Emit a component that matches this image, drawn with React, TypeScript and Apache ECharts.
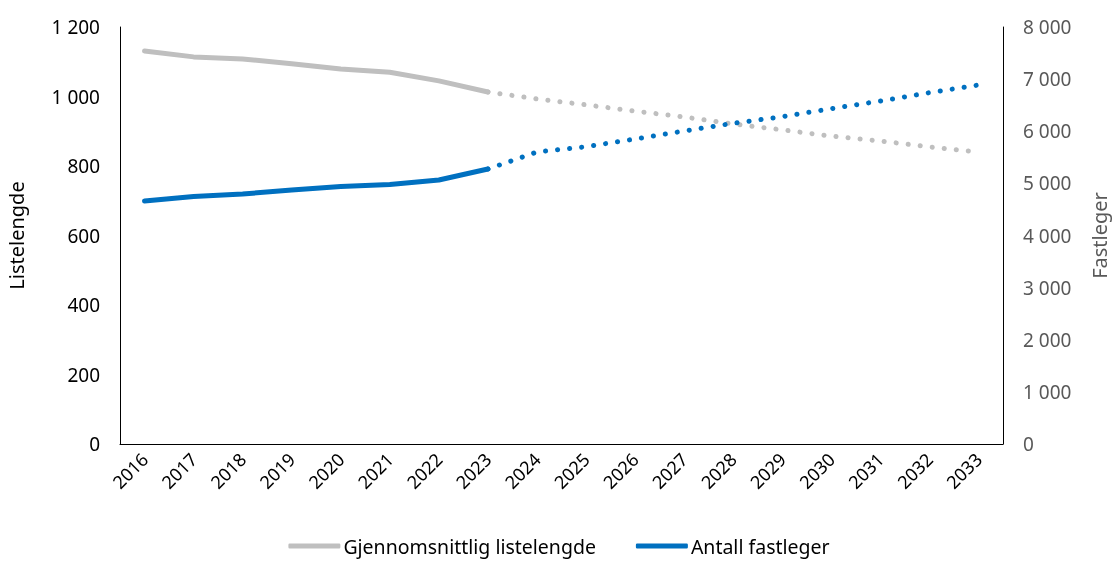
import React, { useEffect, useRef } from "react";
import * as echarts from "echarts";

const years = ["2016","2017","2018","2019","2020","2021","2022","2023","2024","2025","2026","2027","2028","2029","2030","2031","2032","2033"];
const listelengdeHist = [1131, 1114, 1108, 1094, 1079, 1070, 1045, 1013, null, null, null, null, null, null, null, null, null, null];
const listelengdeProj = [null, null, null, null, null, null, null, 1013, 993, 976, 958, 941, 921, 904, 886, 872, 855, 840];
const fastlegerHist = [4662, 4748, 4796, 4873, 4940, 4978, 5065, 5276, null, null, null, null, null, null, null, null, null, null];
const fastlegerProj = [null, null, null, null, null, null, null, 5276, 5602, 5704, 5851, 6005, 6152, 6280, 6433, 6580, 6740, 6887];

const GRAY = "#BFBFBF";
const BLUE = "#0070C0";
const FONT = "Noto Sans";

const fmt = (v: number) => String(v).replace(/\B(?=(\d{3})+(?!\d))/g, " ");

export default function App() {
  const ref = useRef<HTMLDivElement>(null);
  useEffect(() => {
    const chart = echarts.init(ref.current!, null, { renderer: "svg" });
    chart.setOption({
      animation: false,
      textStyle: { fontFamily: FONT },
      grid: { left: 120, right: 115, top: 27, bottom: 119, containLabel: false, outerBoundsMode: "none" },
      legend: {
        bottom: 2,
        left: "center",
        itemWidth: 52,
        itemHeight: 5,
        itemGap: 40,
        data: [
          { name: "Gjennomsnittlig listelengde", icon: "roundRect" },
          { name: "Antall fastleger", icon: "roundRect" },
        ],
        textStyle: { fontSize: 19.5, color: "#000", fontFamily: FONT, padding: [0, 0, 0, -2] },
      },
      xAxis: {
        type: "category",
        data: years,
        boundaryGap: true,
        axisLine: { lineStyle: { color: "#000", width: 1 } },
        axisTick: { show: false },
        axisLabel: { rotate: 45, fontSize: 18, color: "#000", margin: 12, interval: 0 },
      },
      yAxis: [
        {
          type: "value",
          min: 0,
          max: 1200,
          interval: 200,
          name: "Listelengde",
          nameLocation: "middle",
          nameGap: 94,
          nameTextStyle: { fontSize: 20, color: "#000" },
          axisLine: { show: true, lineStyle: { color: "#000" } },
          axisTick: { show: false },
          splitLine: { show: false },
          axisLabel: { fontSize: 19, color: "#000", margin: 20, formatter: fmt },
        },
        {
          type: "value",
          min: 0,
          max: 8000,
          interval: 1000,
          position: "right",
          name: "Fastleger",
          nameLocation: "middle",
          nameGap: 86,
          nameTextStyle: { fontSize: 20, color: "#595959" },
          axisLine: { show: true, lineStyle: { color: "#000" } },
          axisTick: { show: false },
          splitLine: { show: false },
          axisLabel: { fontSize: 19, color: "#595959", margin: 20, formatter: fmt },
        },
      ],
      series: [
        {
          name: "Gjennomsnittlig listelengde",
          type: "line",
          yAxisIndex: 0,
          data: listelengdeHist,
          showSymbol: false,
          symbol: "none",
          itemStyle: { color: GRAY },
          lineStyle: { color: GRAY, width: 5, cap: "round" },
        },
        {
          name: "Antall fastleger",
          type: "line",
          yAxisIndex: 1,
          data: fastlegerHist,
          showSymbol: false,
          symbol: "none",
          itemStyle: { color: BLUE },
          lineStyle: { color: BLUE, width: 5, cap: "round" },
        },
        {
          name: "Gjennomsnittlig listelengde prognose",
          type: "line",
          yAxisIndex: 0,
          data: listelengdeProj,
          showSymbol: false,
          symbol: "none",
          lineStyle: { color: GRAY, width: 5, type: [0.1, 12], cap: "round" },
        },
        {
          name: "Antall fastleger prognose",
          type: "line",
          yAxisIndex: 1,
          data: fastlegerProj,
          showSymbol: false,
          symbol: "none",
          lineStyle: { color: BLUE, width: 5, type: [0.1, 12], cap: "round" },
        },
      ],
    });
    return () => chart.dispose();
  }, []);
  return <div ref={ref} style={{ position: "fixed", left: 0, top: 0, width: 1118, height: 563 }} />;
}
